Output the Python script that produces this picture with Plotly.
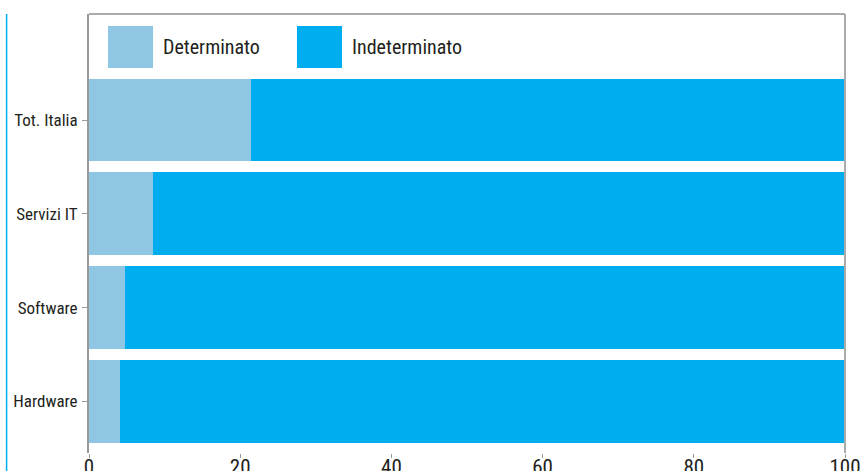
import plotly.graph_objects as go

categories = ["Hardware", "Software", "Servizi IT", "Tot. Italia"]
determinato = [4.1, 4.8, 8.5, 21.4]
indeterminato = [95.9, 95.2, 91.5, 78.6]
series_names = ["Determinato", "Indeterminato"]
colors = ["#8FC6E3", "#00AEEF"]
x_ticks = [0, 20, 40, 60, 80, 100]

FONT = "Liberation Sans Narrow, Roboto Condensed, Roboto, sans-serif"
TXT = "#231F20"

fig = go.Figure()
fig.add_trace(go.Bar(y=categories, x=determinato, orientation="h", name=series_names[0],
                     marker=dict(color=colors[0], line=dict(width=0)), showlegend=False))
fig.add_trace(go.Bar(y=categories, x=indeterminato, orientation="h", name=series_names[1],
                     marker=dict(color=colors[1], line=dict(width=0)), showlegend=False))

fig.update_layout(
    width=861, height=471,
    margin=dict(l=89, r=16, t=14, b=18),
    barmode="stack", bargap=0.117,
    plot_bgcolor="white", paper_bgcolor="white",
    font=dict(family=FONT, color=TXT, size=17),
    xaxis=dict(range=[0, 100], tickvals=x_ticks, showgrid=False, zeroline=False,
               showline=False, ticks="outside", ticklen=4, tickcolor="#999999",
               tickfont=dict(size=21, color=TXT), automargin=False,
               ticklabelstandoff=-9),
    yaxis=dict(categoryorder="array", categoryarray=categories, range=[-0.55, 4.13],
               showgrid=False, zeroline=False, showline=True, linecolor="#999999",
               linewidth=2, ticks="outside", ticklen=5, tickcolor="#999999",
               tickfont=dict(size=17, color=TXT), automargin=False,
               ticklabelstandoff=1),
)

# frame: top and right borders
fig.add_shape(type="line", xref="paper", yref="paper", x0=0, x1=1, y0=1, y1=1,
              line=dict(color="#AAAAAA", width=2))
fig.add_shape(type="line", xref="paper", yref="paper", x0=1, x1=1, y0=0, y1=1,
              line=dict(color="#AAAAAA", width=2))
# left blue rule
fig.add_shape(type="line", xref="paper", yref="paper", x0=-0.109, x1=-0.109, y0=-0.05, y1=1,
              line=dict(color="#00AEEF", width=1.5))

# legend (swatches + labels)
legend_pos = [(0.0251, 0.0847, 0.0952), (0.2751, 0.3347, 0.3452)]
for (sx0, sx1, tx), name, col in zip(legend_pos, series_names, colors):
    fig.add_shape(type="rect", xref="paper", yref="paper", x0=sx0, x1=sx1, y0=0.877, y1=0.9727,
                  fillcolor=col, line=dict(width=0))
    fig.add_annotation(xref="paper", yref="paper", x=tx, y=0.925, text=name, showarrow=False,
                       xanchor="left", yanchor="middle", font=dict(size=20, color=TXT, family=FONT))

fig.write_html("out.html")
